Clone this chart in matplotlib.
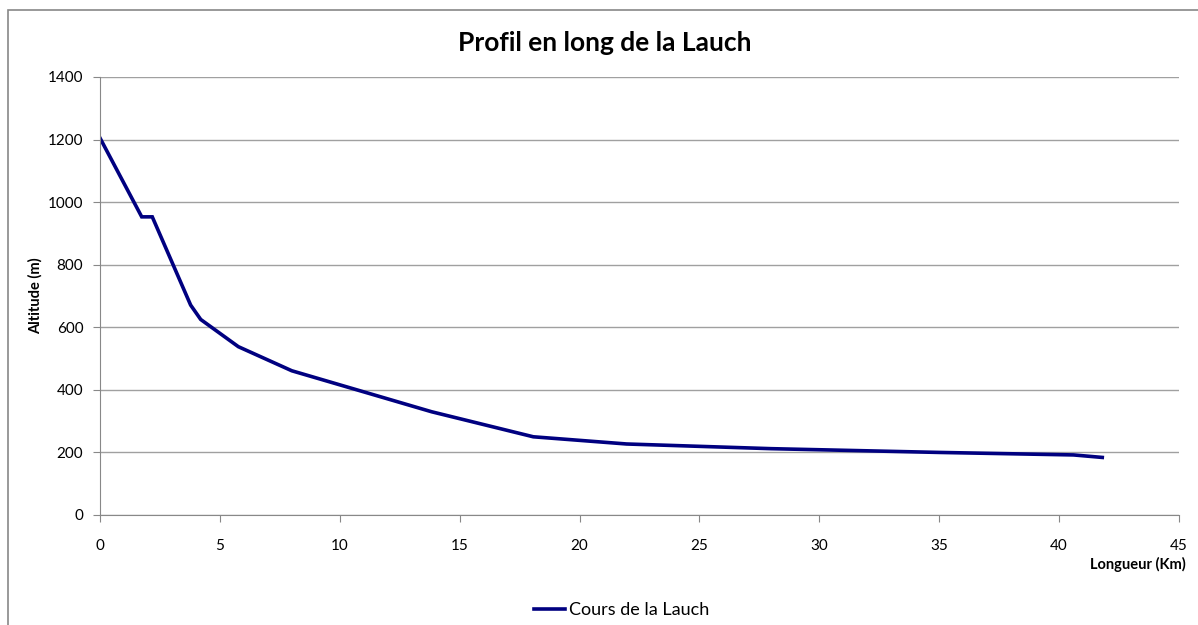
import numpy as np
import matplotlib
matplotlib.use('Agg')
import matplotlib.pyplot as plt
from matplotlib.patches import Rectangle

# distance from source (km) and altitude (m)
longueur = [0, 1.74, 2.18, 3.78, 4.2, 5.77, 8.0, 13.83, 18.07, 21.96, 28.0, 35.0, 40.6, 41.8]
altitude = [1205, 953, 953, 671, 625, 538, 461, 330, 250, 227, 212, 200, 192, 184]
xticks = list(range(0, 50, 5))
yticks = list(range(0, 1600, 200))

plt.rcParams['font.family'] = ['Lato', 'DejaVu Sans']

fig = plt.figure(figsize=(11.98, 6.25), dpi=100)
ax = fig.add_axes([100/1198, 1-515/625, 1079/1198, 438/625])

ax.plot(longueur, altitude, color='#000080', lw=2.6, label='Cours de la Lauch',
        solid_joinstyle='miter')

ax.set_xlim(0, 45)
ax.set_ylim(0, 1400)
ax.set_xticks(xticks)
ax.set_yticks(yticks)
ax.grid(axis='y', color='#a0a0a0', lw=1)
ax.set_axisbelow(True)
for s in ['top', 'right']:
    ax.spines[s].set_visible(False)
for s in ['left', 'bottom']:
    ax.spines[s].set_color('#888888')
ax.tick_params(direction='out', length=5, color='#888888', labelsize=11)
ax.tick_params(axis='x', pad=12)
ax.tick_params(axis='y', pad=7)

fig.text(605/1198, 1-43/625, 'Profil en long de la Lauch', fontsize=19, fontweight='bold',
         ha='center', va='center')
fig.text(35/1198, 1-296/625, 'Altitude (m)', fontsize=10.5, fontweight='bold',
         rotation=90, ha='center', va='center')
fig.text(1186/1198, 1-564/625, 'Longueur (Km)', fontsize=10.5, fontweight='bold',
         ha='right', va='center')

ax.legend(loc='center', bbox_to_anchor=(622/1198, 1-610/625), bbox_transform=fig.transFigure,
          frameon=False, fontsize=13, handlelength=1.7, handletextpad=0.25)

fig.patches.append(Rectangle((8/1198, -0.01), 1.1, 1-10/625+0.01, transform=fig.transFigure,
                             fill=False, edgecolor='#888888', lw=1.2))

fig.savefig('out.png', dpi=100)
